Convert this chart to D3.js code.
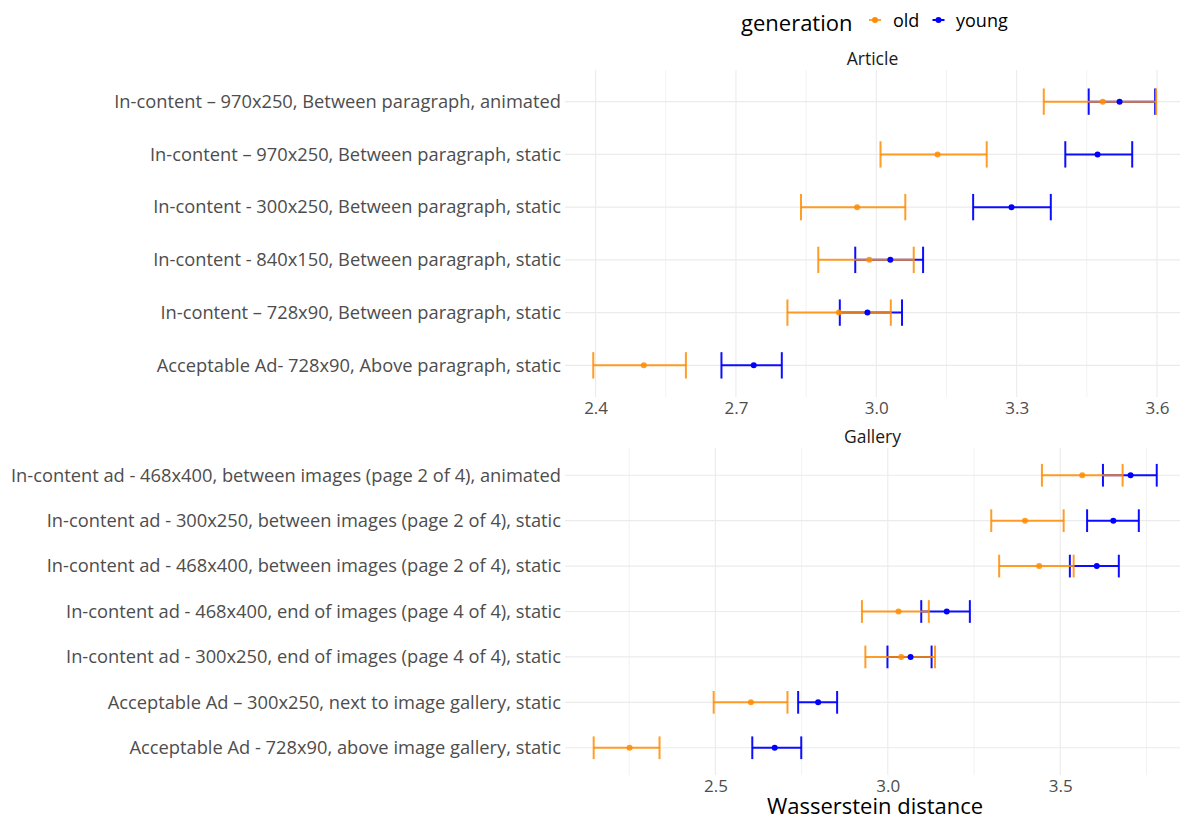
<!DOCTYPE html>
<html>
<head>
<meta charset="utf-8">
<script src="https://cdn.jsdelivr.net/npm/d3@7"></script>
<style>
  html, body { margin: 0; padding: 0; background: #ffffff; }
  svg { display: block; font-family: "Open Sans", "Noto Sans", sans-serif; }
</style>
</head>
<body>
<svg id="chart" width="1180" height="819"></svg>
<script>
// ---- Article panel (top to bottom) ----
const articleCategories = [
  "In-content \u2013 970x250, Between paragraph, animated",
  "In-content \u2013 970x250, Between paragraph, static",
  "In-content - 300x250, Between paragraph, static",
  "In-content - 840x150, Between paragraph, static",
  "In-content \u2013 728x90, Between paragraph, static",
  "Acceptable Ad- 728x90, Above paragraph, static"
];
const articleOldEst = [3.484, 3.131, 2.959, 2.985, 2.920, 2.503];
const articleOldLo  = [3.358, 3.009, 2.839, 2.876, 2.810, 2.395];
const articleOldHi  = [3.598, 3.236, 3.062, 3.080, 3.031, 2.593];
const articleYoungEst = [3.520, 3.473, 3.289, 3.030, 2.981, 2.738];
const articleYoungLo  = [3.454, 3.404, 3.207, 2.955, 2.922, 2.669];
const articleYoungHi  = [3.596, 3.547, 3.373, 3.100, 3.055, 2.798];
const articleTicks = [2.4, 2.7, 3.0, 3.3, 3.6];
const articleMinor = [2.55, 2.85, 3.15, 3.45];

// ---- Gallery panel (top to bottom) ----
const galleryCategories = [
  "In-content ad - 468x400, between images (page 2 of 4), animated",
  "In-content ad - 300x250, between images (page 2 of 4), static",
  "In-content ad - 468x400, between images (page 2 of 4), static",
  "In-content ad - 468x400, end of images (page 4 of 4), static",
  "In-content ad - 300x250, end of images (page 4 of 4), static",
  "Acceptable Ad \u2013 300x250, next to image gallery, static",
  "Acceptable Ad - 728x90, above image gallery, static"
];
const galleryOldEst = [3.564, 3.398, 3.439, 3.031, 3.039, 2.603, 2.251];
const galleryOldLo  = [3.447, 3.300, 3.323, 2.925, 2.935, 2.495, 2.147];
const galleryOldHi  = [3.681, 3.510, 3.539, 3.119, 3.137, 2.709, 2.338];
const galleryYoungEst = [3.704, 3.654, 3.606, 3.171, 3.066, 2.798, 2.672];
const galleryYoungLo  = [3.624, 3.578, 3.528, 3.097, 2.999, 2.740, 2.607];
const galleryYoungHi  = [3.780, 3.728, 3.670, 3.238, 3.127, 2.853, 2.749];
const galleryTicks = [2.5, 3.0, 3.5];
const galleryMinor = [2.25, 2.75, 3.25, 3.75];

const generations = ["old", "young"];
const generationColors = ["#ff8c00", "#0000ff"];

const svg = d3.select("#chart");
const color = d3.scaleOrdinal().domain(generations).range(generationColors);

const panelLeft = 565, panelRight = 1180;

function rows(cats, est, lo, hi, gen) {
  return cats.map((c, i) => ({ cat: c, est: est[i], lo: lo[i], hi: hi[i], gen }));
}

function drawPanel(opts) {
  const { title, titleY, top, bottom, cats, x, ticks, minor, series } = opts;
  const y = d3.scalePoint().domain(cats).range([top, bottom]).padding(0.6);
  const g = svg.append("g");

  // minor vertical grid
  g.append("g").selectAll("line").data(minor).join("line")
    .attr("x1", d => x(d)).attr("x2", d => x(d))
    .attr("y1", top).attr("y2", bottom)
    .attr("stroke", "#f2f2f2").attr("stroke-width", 1);
  // major vertical grid
  g.append("g").selectAll("line").data(ticks).join("line")
    .attr("x1", d => x(d)).attr("x2", d => x(d))
    .attr("y1", top).attr("y2", bottom)
    .attr("stroke", "#ebebeb").attr("stroke-width", 1.1);
  // horizontal grid per category
  g.append("g").selectAll("line").data(cats).join("line")
    .attr("x1", panelLeft).attr("x2", panelRight)
    .attr("y1", d => y(d)).attr("y2", d => y(d))
    .attr("stroke", "#ebebeb").attr("stroke-width", 1.1);

  // strip title
  g.append("text").attr("x", (panelLeft + panelRight) / 2).attr("y", titleY)
    .attr("text-anchor", "middle").attr("dominant-baseline", "central")
    .attr("font-size", 17.5).attr("fill", "#1a1a1a").text(title);

  // category axis labels
  const yAxis = d3.axisLeft(y).tickSize(0).tickPadding(4);
  const ya = g.append("g").attr("transform", `translate(${panelLeft},0)`).call(yAxis);
  ya.select(".domain").remove();
  ya.selectAll("text").attr("font-size", 18.3).attr("fill", "#4d4d4d")
    .attr("font-family", "Open Sans");

  // value axis labels
  const xAxis = d3.axisBottom(x).tickValues(ticks).tickSize(0).tickPadding(5)
    .tickFormat(d3.format(".1f"));
  const xa = g.append("g").attr("transform", `translate(0,${bottom})`).call(xAxis);
  xa.select(".domain").remove();
  xa.selectAll("text").attr("font-size", 17).attr("fill", "#4d4d4d")
    .attr("font-family", "Open Sans");

  const band = y.step() * 0.5;

  // error bars: young underneath, old on top
  series.forEach(s => {
    const eb = g.append("g")
      .attr("stroke", color(s[0].gen))
      .attr("stroke-opacity", s[0].gen === "old" ? 0.85 : 0.95)
      .attr("stroke-width", 2);
    eb.selectAll("line.h").data(s).join("line").attr("class", "h")
      .attr("x1", d => x(d.lo)).attr("x2", d => x(d.hi))
      .attr("y1", d => y(d.cat)).attr("y2", d => y(d.cat));
    eb.selectAll("line.l").data(s).join("line").attr("class", "l")
      .attr("x1", d => x(d.lo)).attr("x2", d => x(d.lo))
      .attr("y1", d => y(d.cat) - band / 2).attr("y2", d => y(d.cat) + band / 2);
    eb.selectAll("line.r").data(s).join("line").attr("class", "r")
      .attr("x1", d => x(d.hi)).attr("x2", d => x(d.hi))
      .attr("y1", d => y(d.cat) - band / 2).attr("y2", d => y(d.cat) + band / 2);
  });
  // point estimates
  series.forEach(s => {
    g.append("g").selectAll("circle").data(s).join("circle")
      .attr("cx", d => x(d.est)).attr("cy", d => y(d.cat)).attr("r", 3)
      .attr("fill", color(s[0].gen))
      .attr("fill-opacity", s[0].gen === "old" ? 0.85 : 1);
  });
}

const xArticle = d3.scaleLinear().domain([2.4, 3.6]).range([595.6, 1157]);
const xGallery = d3.scaleLinear().domain([2.5, 3.5]).range([715.4, 1060.2]);

drawPanel({
  title: "Article", titleY: 58, top: 70, bottom: 397,
  cats: articleCategories, x: xArticle, ticks: articleTicks, minor: articleMinor,
  series: [
    rows(articleCategories, articleYoungEst, articleYoungLo, articleYoungHi, "young"),
    rows(articleCategories, articleOldEst, articleOldLo, articleOldHi, "old")
  ]
});

drawPanel({
  title: "Gallery", titleY: 436, top: 448, bottom: 775,
  cats: galleryCategories, x: xGallery, ticks: galleryTicks, minor: galleryMinor,
  series: [
    rows(galleryCategories, galleryYoungEst, galleryYoungLo, galleryYoungHi, "young"),
    rows(galleryCategories, galleryOldEst, galleryOldLo, galleryOldHi, "old")
  ]
});

// axis title
svg.append("text").attr("x", 875).attr("y", 814)
  .attr("text-anchor", "middle")
  .attr("font-size", 22).attr("fill", "#000").text("Wasserstein distance");

// legend
const legend = svg.append("g");
legend.append("text").attr("x", 741).attr("y", 22)
  .attr("dominant-baseline", "central").attr("font-size", 22).attr("fill", "#000")
  .text("generation");
const keyX = [875, 938.5];
const labelX = [893, 956];
generations.forEach((gname, i) => {
  const k = legend.append("g");
  k.append("line").attr("x1", keyX[i] - 6).attr("x2", keyX[i] + 6)
    .attr("y1", 20).attr("y2", 20)
    .attr("stroke", color(gname)).attr("stroke-width", 2)
    .attr("stroke-opacity", gname === "old" ? 0.8 : 1);
  k.append("circle").attr("cx", keyX[i]).attr("cy", 20).attr("r", 3)
    .attr("fill", color(gname));
  k.append("text").attr("x", labelX[i]).attr("y", 20)
    .attr("dominant-baseline", "central").attr("font-size", 18).attr("fill", "#000")
    .text(gname);
});
</script>
</body>
</html>
